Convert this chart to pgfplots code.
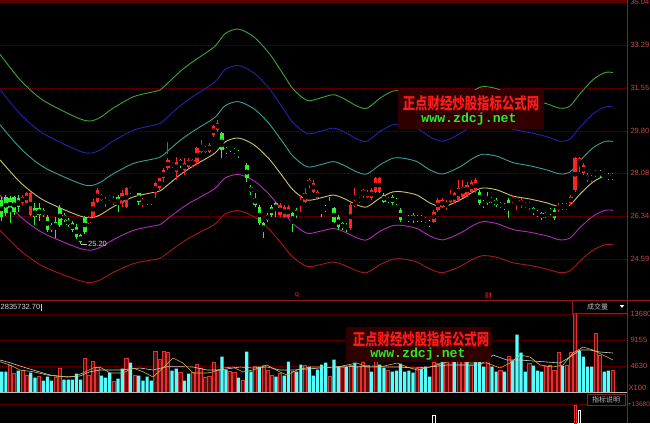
\documentclass[border=0pt]{standalone}
\usepackage{fontspec}
\setmainfont{Liberation Sans}
\newfontfamily\cjk{Noto Sans CJK SC}
\newfontfamily\wmmono{Liberation Mono}
\usepackage{pgfplots}
\pgfplotsset{compat=1.18}
\usepackage{pgfplotstable}

\definecolor{upred}{RGB}{255,36,36}
\definecolor{dngreen}{RGB}{50,240,50}
\definecolor{volcyan}{RGB}{84,255,255}
\definecolor{volred}{RGB}{235,45,45}
\definecolor{volredfill}{RGB}{90,14,14}
\definecolor{axred}{RGB}{150,25,25}
\definecolor{gridred}{RGB}{100,0,0}
\definecolor{lblred}{RGB}{205,70,70}
\definecolor{bandgreen}{RGB}{60,165,55}
\definecolor{bandblue}{RGB}{35,35,175}
\definecolor{bandcyan}{RGB}{55,160,150}
\definecolor{bandyellow}{RGB}{205,195,110}
\definecolor{bandpurple}{RGB}{175,45,180}
\definecolor{bandred}{RGB}{165,25,30}
\definecolor{wmbox}{RGB}{48,0,0}
\definecolor{wmred}{RGB}{255,25,25}
\definecolor{wmgreen}{RGB}{40,235,40}
\definecolor{mawhite}{RGB}{205,205,205}
\definecolor{mayellow}{RGB}{210,185,60}
\definecolor{softgray}{RGB}{190,190,190}
\definecolor{lightgray}{RGB}{215,215,215}
\definecolor{boxedge}{RGB}{110,40,40}

% envelope: moving average and +-5/10/15 % bands
\pgfplotstableread{
i ma up5 up10 up15 dn5 dn10
-0.41 28.62 30.05 31.48 32.91 27.19 25.76
4.40 27.72 29.11 30.49 31.88 26.33 24.95
9.22 27.07 28.42 29.78 31.13 25.72 24.36
14.03 26.67 28.00 29.34 30.67 25.34 24.00
18.84 26.34 27.66 28.97 30.29 25.02 23.71
21.25 26.26 27.57 28.89 30.20 24.95 23.63
23.66 26.38 27.70 29.02 30.34 25.06 23.74
26.79 26.71 28.05 29.38 30.72 25.37 24.04
31.60 27.11 28.47 29.82 31.18 25.75 24.40
35.69 27.27 28.63 30.00 31.36 25.91 24.54
38.10 27.36 28.73 30.10 31.46 25.99 24.62
40.51 27.68 29.06 30.45 31.83 26.30 24.91
42.91 28.01 29.41 30.81 32.21 26.61 25.21
45.32 28.29 29.70 31.12 32.53 26.88 25.46
47.72 28.53 29.96 31.38 32.81 27.10 25.68
51.33 28.90 30.35 31.79 33.24 27.46 26.01
53.74 29.35 30.82 32.29 33.75 27.88 26.42
56.63 29.51 30.99 32.46 33.94 28.03 26.56
59.04 29.39 30.86 32.33 33.80 27.92 26.45
61.44 29.14 30.60 32.05 33.51 27.68 26.23
64.57 28.62 30.05 31.48 32.91 27.19 25.76
67.70 27.93 29.33 30.72 32.12 26.53 25.14
70.11 27.40 28.77 30.14 31.51 26.03 24.66
73.48 26.99 28.34 29.69 31.04 25.64 24.29
76.61 27.07 28.42 29.78 31.13 25.72 24.36
79.73 27.19 28.55 29.91 31.27 25.83 24.47
82.14 27.07 28.42 29.78 31.13 25.72 24.36
85.51 26.79 28.13 29.47 30.81 25.45 24.11
87.92 26.71 28.05 29.38 30.72 25.37 24.04
91.05 27.07 28.42 29.78 31.13 25.72 24.36
94.17 27.32 28.69 30.05 31.42 25.95 24.59
96.58 27.32 28.69 30.05 31.42 25.95 24.59
99.95 27.19 28.55 29.91 31.27 25.83 24.47
103.08 26.87 28.21 29.56 30.90 25.53 24.18
106.21 26.71 28.05 29.38 30.72 25.37 24.04
110.30 26.99 28.34 29.69 31.04 25.64 24.29
113.43 27.32 28.69 30.05 31.42 25.95 24.59
115.83 27.48 28.85 30.23 31.60 26.11 24.73
119.20 27.40 28.77 30.14 31.51 26.03 24.66
123.06 27.15 28.51 29.87 31.22 25.79 24.44
127.15 27.03 28.38 29.73 31.08 25.68 24.33
131.24 26.87 28.21 29.56 30.90 25.53 24.18
134.37 26.71 28.05 29.38 30.72 25.37 24.04
136.78 26.79 28.13 29.47 30.81 25.45 24.11
139.19 27.23 28.59 29.95 31.31 25.87 24.51
142.31 27.72 29.11 30.49 31.88 26.33 24.95
145.20 27.97 29.37 30.77 32.17 26.57 25.17
147.12 27.97 29.37 30.77 32.17 26.57 25.17
}\bands

% daily candles: open high low close, u=1 for an up day
\pgfplotstableread{
i o h l c u
0 26.99 27.10 26.15 26.30 0
1 27.11 27.20 26.35 26.46 0
2 27.07 27.15 26.05 26.58 0
3 27.11 27.15 26.40 26.50 0
4 27.07 27.19 26.50 26.71 0
5 26.87 27.20 26.80 27.11 1
6 26.87 27.30 26.85 27.27 1
7 26.38 27.30 26.35 27.27 1
8 26.67 26.85 25.97 26.30 0
9 26.67 26.85 26.14 26.38 0
10 26.58 26.65 26.30 26.38 0
11 26.30 26.40 25.69 25.77 0
12 25.97 26.05 25.70 25.77 0
13 26.10 26.30 25.44 25.85 0
14 26.67 26.79 25.90 25.97 0
15 26.38 26.46 26.10 26.18 0
16 26.18 26.25 25.90 25.97 0
17 26.05 26.12 25.70 25.77 0
18 25.89 26.00 25.40 25.49 0
19 25.57 25.62 25.20 25.28 0
20 26.26 26.35 25.60 25.69 0
21 26.05 26.35 26.00 26.26 1
22 26.30 27.05 26.25 26.91 1
23 26.91 27.47 26.86 27.40 1
24 26.99 27.25 26.95 27.20 1
25 26.86 27.13 26.72 27.05 1
26 26.99 27.20 26.95 27.13 1
27 26.86 27.15 26.80 27.05 1
28 27.13 27.20 26.52 26.79 0
29 26.86 27.40 26.72 27.26 1
30 26.72 27.53 26.65 27.47 1
31 27.33 27.50 27.25 27.47 1
32 27.30 27.45 27.25 27.36 1
33 27.26 27.28 26.79 26.92 0
34 26.86 27.06 26.72 26.99 1
35 26.86 27.05 26.80 26.99 1
36 26.86 27.05 26.80 26.99 1
37 27.26 27.74 27.06 27.67 1
38 27.47 27.90 27.40 27.87 1
39 27.87 28.28 27.74 28.21 1
40 28.28 29.36 28.21 28.62 1
41 28.35 28.55 28.30 28.48 1
42 28.14 28.75 27.80 28.55 1
43 28.62 28.65 28.30 28.41 0
44 28.21 28.68 28.01 28.48 1
45 28.35 28.70 28.30 28.62 1
46 28.41 28.65 28.35 28.62 1
47 28.55 29.16 28.41 29.09 1
48 28.95 29.43 28.89 29.16 1
49 28.95 29.20 28.90 29.16 1
50 28.95 29.30 28.92 29.23 1
51 29.64 30.05 29.55 29.98 1
52 29.84 30.24 29.77 30.11 1
53 29.70 29.77 28.68 29.02 0
54 29.09 29.16 28.85 28.95 0
55 29.13 29.20 28.95 29.02 0
56 29.05 29.10 28.85 28.92 0
57 28.95 29.02 28.68 28.82 0
58 28.95 29.00 28.82 28.88 0
59 28.41 28.48 27.74 27.87 0
60 27.53 27.60 27.20 27.33 0
61 27.06 27.26 26.72 26.79 0
62 26.72 26.79 25.97 26.04 0
63 26.04 26.11 25.43 25.70 0
64 26.38 26.45 26.11 26.18 0
65 26.72 26.79 26.31 26.38 0
66 26.86 26.92 26.31 26.58 0
67 26.38 26.86 26.31 26.79 1
68 26.31 26.79 26.25 26.72 1
69 26.31 26.79 26.25 26.72 1
70 26.45 26.52 25.70 26.04 0
71 26.58 26.65 26.25 26.38 0
72 26.86 27.19 26.52 26.92 1
73 26.92 27.47 26.86 27.26 1
74 27.60 27.87 27.47 27.80 1
75 27.33 27.80 27.26 27.67 1
76 27.06 27.40 26.99 27.33 1
77 26.65 26.72 26.31 26.58 0
78 26.72 26.79 26.52 26.58 0
79 26.79 27.10 26.65 26.72 0
80 26.65 26.72 26.04 26.11 0
81 26.31 26.38 25.77 25.91 0
82 26.04 26.11 25.77 25.84 0
83 25.97 26.04 25.70 25.84 0
84 25.84 26.86 25.77 26.79 1
85 26.79 27.47 26.72 26.92 1
86 26.92 27.13 26.86 27.06 1
87 27.19 27.42 27.06 27.40 1
88 27.13 27.40 27.06 27.33 1
89 27.06 27.47 26.99 27.40 1
90 27.33 27.94 27.26 27.87 1
91 27.33 27.94 27.26 27.87 1
92 27.19 27.26 26.86 26.92 0
93 27.06 27.13 26.86 26.92 0
94 27.13 27.19 26.79 26.86 0
95 26.99 27.06 26.79 26.86 0
96 26.58 26.65 26.11 26.18 0
97 26.31 26.38 26.18 26.25 0
98 26.31 26.38 26.11 26.18 0
99 26.38 26.45 26.04 26.18 0
100 26.31 26.38 26.11 26.18 0
101 26.31 26.38 26.11 26.18 0
102 26.25 26.31 26.04 26.11 0
103 26.11 26.18 25.91 25.97 0
104 26.11 26.58 26.04 26.52 1
105 26.58 27.06 26.52 26.99 1
106 26.72 27.06 26.65 26.99 1
107 26.72 26.99 26.58 26.92 1
108 26.92 27.40 26.86 27.19 1
109 26.92 27.33 26.86 27.26 1
110 26.99 27.80 26.92 27.47 1
111 27.13 27.80 27.06 27.53 1
112 27.19 27.74 27.13 27.60 1
113 27.33 27.80 27.26 27.74 1
114 27.40 27.87 27.26 27.80 1
115 27.33 27.40 26.79 26.86 0
116 26.92 26.99 26.65 26.79 0
117 27.06 27.33 26.79 26.86 0
118 27.06 27.13 26.86 26.92 0
119 26.99 27.06 26.72 26.79 0
120 26.86 26.92 26.65 26.72 0
121 26.79 26.86 26.58 26.65 0
122 26.99 27.06 26.25 26.58 0
123 26.92 27.19 26.86 27.06 1
124 26.92 27.13 26.58 27.06 1
125 26.79 27.06 26.65 26.99 1
126 26.72 26.92 26.65 26.86 1
127 26.72 26.92 26.58 26.86 1
128 26.65 26.72 26.38 26.45 0
129 26.52 26.58 26.31 26.38 0
130 26.45 26.52 26.18 26.25 0
131 26.45 26.52 26.25 26.31 0
132 26.58 26.65 26.38 26.45 0
133 26.58 26.65 26.18 26.25 0
134 26.58 26.86 26.52 26.79 1
135 26.65 26.86 26.58 26.79 1
136 26.65 26.86 26.58 26.79 1
137 26.86 27.19 26.79 27.13 1
138 27.40 28.75 27.33 28.68 1
139 28.48 28.75 28.14 28.68 1
140 28.07 28.48 28.00 28.41 1
141 27.80 28.07 27.74 28.01 1
142 27.80 28.01 27.74 27.94 1
143 28.01 28.21 27.94 28.14 1
144 28.14 28.21 27.94 28.01 0
145 27.94 28.07 27.87 28.01 1
146 28.01 28.07 27.80 27.87 0
147 27.87 28.07 27.80 28.01 1
}\candles

% daily volume (x100), u=1 for an up day
\pgfplotstableread{
i v u
0 3654 0
1 3654 0
2 4698 1
3 3306 1
4 3828 0
5 3828 1
6 2958 1
7 3480 0
8 2610 0
9 2784 1
10 2088 0
11 2784 0
12 2088 0
13 2610 1
14 4176 1
15 2262 0
16 2262 0
17 2262 0
18 3306 0
19 2262 0
20 5916 1
21 2958 1
22 5394 1
23 4350 1
24 2958 0
25 2610 0
26 3480 0
27 1914 1
28 2436 0
29 4176 0
30 5916 1
31 5220 0
32 2958 1
33 2958 0
34 2088 0
35 2784 0
36 2088 0
37 7134 1
38 5742 1
39 7134 1
40 6960 1
41 3828 0
42 4176 0
43 3480 1
44 2088 0
45 3306 0
46 3480 1
47 4872 1
48 4176 1
49 2610 1
50 2784 1
51 5220 1
52 3828 1
53 6264 0
54 4002 0
55 3654 1
56 3480 1
57 2610 0
58 2088 1
59 7134 0
60 3654 0
61 4524 1
62 4524 0
63 4698 1
64 3828 1
65 2958 1
66 2784 0
67 3306 1
68 2958 0
69 5394 0
70 3654 1
71 3654 0
72 4872 0
73 4698 1
74 4524 0
75 2958 0
76 4002 0
77 4872 0
78 5220 0
79 2784 1
80 5742 0
81 4524 0
82 4350 1
83 4524 0
84 4698 1
85 5220 0
86 4524 1
87 5220 1
88 4698 1
89 3654 0
90 5394 1
91 4872 0
92 4350 0
93 3828 1
94 3654 0
95 3828 0
96 5046 0
97 3654 0
98 3828 0
99 3480 0
100 4176 1
101 4176 0
102 4524 0
103 2784 0
104 5220 1
105 5046 1
106 5600 0
107 6100 1
108 5400 1
109 5900 0
110 6300 1
111 5500 1
112 6000 0
113 4698 1
114 5800 0
115 6200 0
116 4524 0
117 5500 1
118 4524 0
119 3654 0
120 3828 1
121 3654 0
122 6264 1
123 5568 0
124 10092 0
125 6960 0
126 3654 0
127 5046 1
128 4698 0
129 3828 0
130 3654 0
131 4524 1
132 4698 1
133 3828 1
134 6960 1
135 4698 0
136 4698 1
137 6960 1
138 13900 1
139 7308 0
140 6264 0
141 4524 0
142 4524 0
143 10266 1
144 6438 1
145 3654 0
146 3828 0
147 3828 1
}\volume

% volume moving averages
\pgfplotstableread{
i v
-0.41 5672
2.00 5203
4.40 4628
7.53 3932
11.62 3062
15.72 2714
18.84 2888
21.25 3637
23.66 3932
28.47 3932
33.29 4280
36.42 3932
39.78 4507
42.91 4507
46.04 4454
49.41 3932
52.54 3932
57.35 4454
60.48 4280
63.85 4454
66.98 3932
70.11 3932
73.48 4106
76.61 4280
79.73 4454
83.10 4628
85.51 4454
89.36 4628
92.73 4454
95.86 4454
98.99 4280
103.08 4454
107.17 4802
111.02 4802
115.11 4802
118.24 6542
121.61 5672
124.74 5672
127.87 5498
131.24 5324
134.37 5150
136.78 6194
139.19 7412
141.59 7412
144.00 7064
147.12 6890
}\volmawhite

\pgfplotstableread{
i v
-0.41 5377
2.00 4802
4.40 3932
7.53 3637
10.90 3062
14.03 2767
17.16 2767
19.57 3410
21.97 4280
23.66 4454
26.07 3410
29.19 3410
31.60 4280
34.01 3637
36.42 2714
38.82 4280
41.23 6020
43.63 5150
46.04 3410
49.41 3410
50.85 3584
53.26 4280
55.67 4454
58.07 3584
60.48 3932
63.85 4802
66.98 3584
68.66 3062
71.07 3932
74.20 4454
77.33 4454
79.73 4280
83.10 4802
85.51 5150
87.92 4454
91.05 4454
95.14 5150
97.55 4454
99.95 3932
103.08 4454
106.21 5150
109.58 5672
112.71 5150
116.80 5150
119.93 4280
122.34 5150
124.74 6542
127.15 6194
129.56 4802
132.69 4454
135.09 4802
137.50 6890
139.91 7934
142.31 7412
144.72 6542
147.12 5672
}\volmayellow

\pgfplotsset{
  panel/.style={
    scale only axis, anchor=north west, width=627pt,
    xmin=-0.41, xmax=150.5,
    axis line style={draw=none}, xtick=\empty,
    scaled y ticks=false,
    major tick length=0pt, yticklabel pos=right,
    tick label style={font=\fontsize{7.5}{8}\selectfont, text=lblred},
    yticklabel style={anchor=west},
    ymajorgrids, grid style={gridred, dash pattern=on 1pt off 1pt, line width=0.5pt},
  },
  onlyup/.style={restrict expr to domain={\thisrow{u}}{0.5:1.5}},
  onlydown/.style={restrict expr to domain={\thisrow{u}}{-0.5:0.5}},
  wick/.style={only marks, mark=none, forget plot,
    error bars/.cd, y dir=both, y explicit, error mark=none,
    error bar style={#1, line width=1pt}},
  body/.style={only marks, mark=none, forget plot,
    error bars/.cd, y dir=both, y explicit, error mark=none,
    error bar style={#1, line width=3.4pt}},
  band/.style={#1, line width=0.9pt, smooth, mark=none},
}

\begin{document}
\begin{tikzpicture}
\fill[black] (0pt,0pt) rectangle (650pt,-423pt);
\useasboundingbox (0pt,0pt) rectangle (650pt,-423pt);

% ---- price panel ----
\begin{axis}[panel, at={(0pt,0pt)}, height=300pt,
  ymin=22.925, ymax=35.12,
  ytick={35.04,33.29,31.55,29.80,28.08,26.34,24.59},
  yticklabels={35.04,33.29,31.55,29.80,28.08,26.34,24.59}]
\addplot[band=bandgreen]  table[x=i, y=up15] {\bands};
\addplot[band=bandblue]   table[x=i, y=up10] {\bands};
\addplot[band=bandcyan]   table[x=i, y=up5]  {\bands};
\addplot[band=bandyellow] table[x=i, y=ma]   {\bands};
\addplot[band=bandpurple] table[x=i, y=dn5]  {\bands};
\addplot[band=bandred]    table[x=i, y=dn10] {\bands};

\addplot[onlyup, wick=upred] table[x=i, y expr=(\thisrow{h}+\thisrow{l})/2, y error expr=(\thisrow{h}-\thisrow{l})/2] {\candles};
\addplot[onlyup, body=upred] table[x=i, y expr=(\thisrow{o}+\thisrow{c})/2, y error expr=abs(\thisrow{c}-\thisrow{o})/2] {\candles};
\addplot[onlydown, wick=dngreen] table[x=i, y expr=(\thisrow{h}+\thisrow{l})/2, y error expr=(\thisrow{h}-\thisrow{l})/2] {\candles};
\addplot[onlydown, body=dngreen] table[x=i, y expr=(\thisrow{o}+\thisrow{c})/2, y error expr=abs(\thisrow{c}-\thisrow{o})/2] {\candles};

\draw[softgray, line width=0.5pt] (axis cs:19.2,25.20) -- (axis cs:20.6,25.20)
  node[anchor=west, inner sep=0.6pt, text=lightgray,
       font=\fontsize{7.5}{8}\selectfont] {25.20};
\end{axis}

% ---- volume panel ----
\begin{axis}[panel, at={(0pt,-300pt)}, height=92.6pt,
  ymin=0, ymax=16112,
  ytick={13680,9155,4630}, yticklabels={13680,9155,4630}]
\addplot[onlyup, ybar, bar width=3.2pt, bar shift=0pt, draw=volred, line width=0.7pt, fill=volredfill]
  table[x=i, y=v] {\volume};
\addplot[onlydown, ybar, bar width=3.2pt, bar shift=0pt, draw=none, fill=volcyan]
  table[x=i, y=v] {\volume};
\addplot[mawhite, line width=0.6pt, mark=none] table[x=i, y=v] {\volmawhite};
\addplot[mayellow, line width=0.6pt, mark=none] table[x=i, y=v] {\volmayellow};
\end{axis}

% ---- lower indicator panel ----
\begin{axis}[panel, at={(0pt,-395pt)}, height=28pt,
  ymin=0, ymax=20200, ytick={13680}, yticklabels={}]
\addplot[ybar, bar width=2.2pt, bar shift=0pt, draw=white, line width=0.5pt, fill=none]
  coordinates {(104,5770) (139,9370)};
\addplot[ybar, bar width=2.2pt, bar shift=0pt, draw=volred, line width=0.6pt, fill=none]
  coordinates {(138,12980)};
\end{axis}

% frame lines
\draw[gridred, line width=0.6pt] (0pt,-0.5pt) -- (627pt,-0.5pt);
\draw[axred, line width=0.8pt] (0pt,-300pt) -- (650pt,-300pt);
\draw[softgray, line width=0.6pt] (0pt,-392.6pt) -- (627pt,-392.6pt);
\draw[axred, line width=0.8pt] (627pt,0pt) -- (627pt,-423pt);

% panel captions
\node[anchor=west, inner sep=0pt, text=lightgray,
      font=\fontsize{7.5}{8}\selectfont] at (0.5pt,-306.5pt) {2835732.70};
\draw[volcyan, line width=0.8pt] (41.5pt,-303.5pt) -- (41.5pt,-310.5pt);
\draw[axred, fill=black, line width=0.6pt] (572pt,-300.5pt) rectangle (627pt,-313pt);
\node[text=softgray, font=\cjk\fontsize{7}{8}\selectfont, inner sep=0pt] at (597.5pt,-306.8pt) {成交量};
\fill[white] (619.8pt,-305.2pt) -- (624.2pt,-305.2pt) -- (622pt,-307.8pt) -- cycle;
\draw[boxedge, fill=black, line width=0.6pt] (587pt,-394pt) rectangle (625pt,-405pt);
\node[text=softgray, font=\cjk\fontsize{7}{8}\selectfont, inner sep=0pt] at (606pt,-399.5pt) {指标说明};
\node[anchor=west, inner sep=0pt, text=lblred, font=\fontsize{7.5}{8}\selectfont] at (628.5pt,-387.5pt) {X100};
\node[anchor=west, inner sep=0pt, text=lblred, font=\fontsize{6.6}{7}\selectfont] at (627.6pt,-404.5pt) {+13680};

% event markers on the date line
\node[text=upred, font=\fontsize{7}{8}\selectfont, inner sep=0pt] at (297pt,-295.5pt) {q};
\node[text=upred, font=\cjk\fontsize{7}{8}\selectfont, inner sep=0pt] at (488.5pt,-295.5pt) {财};

% site banners
\fill[wmbox] (398pt,-90pt) rectangle (544pt,-129pt);
\node[text=wmred, font=\cjk\bfseries\fontsize{12.4}{13}\selectfont, inner sep=0pt, yscale=1.3] at (471pt,-103.5pt) {正点财经炒股指标公式网};
\node[text=wmgreen, font=\wmmono\bfseries\fontsize{13.2}{14}\selectfont, inner sep=0pt] at (469pt,-119.5pt) {www.zdcj.net};

\fill[wmbox] (346pt,-327pt) rectangle (491pt,-362pt);
\node[text=wmred, font=\cjk\bfseries\fontsize{12.4}{13}\selectfont, inner sep=0pt, yscale=1.3] at (421pt,-339.5pt) {正点财经炒股指标公式网};
\node[text=wmgreen, font=\wmmono\bfseries\fontsize{13.2}{14}\selectfont, inner sep=0pt] at (418pt,-354pt) {www.zdcj.net};
\end{tikzpicture}
\end{document}
